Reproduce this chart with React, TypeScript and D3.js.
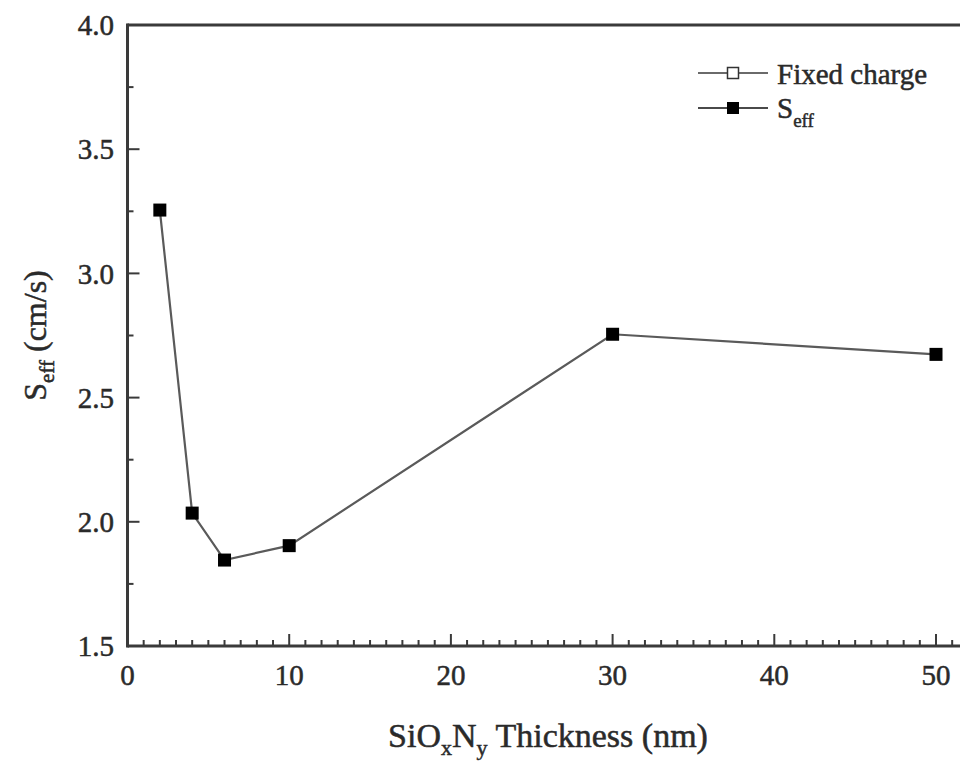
import React from "react";
import * as d3 from "d3";

const thickness = [2, 4, 6, 10, 30, 50];
const seff = [3.255, 2.035, 1.846, 1.904, 2.755, 2.674];
const xTicks = [0, 10, 20, 30, 40, 50];
const yTicks = [1.5, 2.0, 2.5, 3.0, 3.5, 4.0];

const W = 960;
const H = 762;
const FONT = "Liberation Serif";

export default function App() {
  const left = 127.5;
  const top = 25;
  const bottom = 646;
  const unit = 16.17;
  const x = d3.scaleLinear().domain([0, 52]).range([left, left + 52 * unit]);
  const y = d3.scaleLinear().domain([1.5, 4.0]).range([bottom, top]);

  const xMinor = d3.range(1, 52).filter((v) => v % 10 !== 0);
  const yMinor = d3.range(1.75, 4.0, 0.5);

  const line = d3
    .line<number>()
    .x((_, i) => x(thickness[i]))
    .y((d) => y(d));

  const axisColor = "#3a3a3a";
  const textColor = "#2a2a2a";
  const ms = 13;
  const ts = { fontFamily: FONT, stroke: textColor, strokeWidth: 0.5 };

  return (
    <svg
      width={W}
      height={H}
      style={{ position: "fixed", top: 0, left: 0, background: "#fff" }}
    >
      <rect width={W} height={H} fill="#fff" />
      <path d={line(seff) || ""} fill="none" stroke="#5a5a5a" strokeWidth={2.2} />
      {seff.map((v, i) => (
        <rect
          key={i}
          x={x(thickness[i]) - ms / 2}
          y={y(v) - ms / 2}
          width={ms}
          height={ms}
          fill="#000"
        />
      ))}

      {xMinor.map((v) => (
        <line key={"xm" + v} x1={x(v)} x2={x(v)} y1={bottom} y2={bottom - 6} stroke={axisColor} strokeWidth={2} />
      ))}
      {xTicks.map((v) => (
        <line key={"xM" + v} x1={x(v)} x2={x(v)} y1={bottom} y2={bottom - 12} stroke={axisColor} strokeWidth={2} />
      ))}
      {yMinor.map((v) => (
        <line key={"ym" + v} x1={left} x2={left + 6} y1={y(v)} y2={y(v)} stroke={axisColor} strokeWidth={2} />
      ))}
      {yTicks.map((v) => (
        <line key={"yM" + v} x1={left} x2={left + 12} y1={y(v)} y2={y(v)} stroke={axisColor} strokeWidth={2} />
      ))}

      <line x1={left} x2={W + 10} y1={top} y2={top} stroke={axisColor} strokeWidth={3} />
      <line x1={left} x2={W + 10} y1={bottom} y2={bottom} stroke={axisColor} strokeWidth={3} />
      <line x1={left} x2={left} y1={top - 1.5} y2={bottom + 1.5} stroke={axisColor} strokeWidth={3} />

      {xTicks.map((v) => (
        <text key={"xl" + v} x={x(v)} y={685} textAnchor="middle" style={ts} fontSize={29} fill={textColor}>
          {v}
        </text>
      ))}
      {yTicks.map((v) => (
        <text key={"yl" + v} x={114} y={y(v)} dy="0.35em" textAnchor="end" style={ts} fontSize={29} fill={textColor}>
          {v.toFixed(1)}
        </text>
      ))}

      <text x={548} y={747} textAnchor="middle" style={ts} fontSize={34} fill={textColor}>
        SiO
        <tspan fontSize={22} dy={8}>x</tspan>
        <tspan dy={-8}>N</tspan>
        <tspan fontSize={22} dy={8}>y</tspan>
        <tspan dy={-8}> Thickness (nm)</tspan>
      </text>

      <text
        transform={`translate(46, ${(top + bottom) / 2}) rotate(-90)`}
        textAnchor="middle"
        style={ts}
        fontSize={32}
        fill={textColor}
      >
        S<tspan fontSize={21} dy={8}>eff</tspan>
        <tspan dy={-8}> (cm/s)</tspan>
      </text>

      <g>
        <line x1={698} x2={768} y1={73} y2={73} stroke="#6a6a6a" strokeWidth={2} />
        <rect x={733 - 5.5} y={73 - 5.5} width={11} height={11} fill="#fff" stroke="#333" strokeWidth={1.5} />
        <text x={777} y={84} style={ts} fontSize={29} fill={textColor}>
          Fixed charge
        </text>
        <line x1={698} x2={768} y1={108} y2={108} stroke="#4a4a4a" strokeWidth={2.2} />
        <rect x={733 - 6} y={108 - 6} width={12} height={12} fill="#000" />
        <text x={777} y={118} style={ts} fontSize={29} fill={textColor}>
          S<tspan fontSize={19} dy={9}>eff</tspan>
        </text>
      </g>
    </svg>
  );
}
